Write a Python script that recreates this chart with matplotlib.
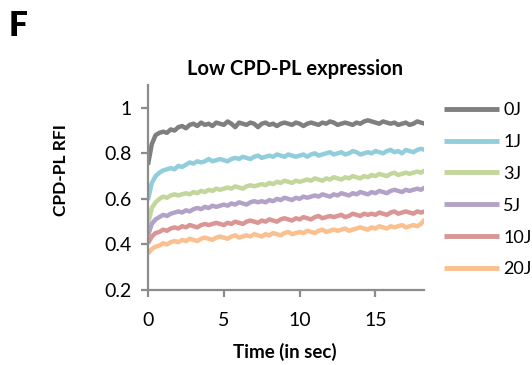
import numpy as np
import matplotlib
matplotlib.use("Agg")
import matplotlib.pyplot as plt

plt.rcParams['font.family'] = ['Lato', 'DejaVu Sans']

labels = ["0J", "1J", "3J", "5J", "10J", "20J"]
colors = ["#7F7F7F", "#92CDDC", "#C3D69B", "#B3A2C7", "#D99694", "#FAC090"]

time_step = 0.25

s0J = [0.75, 0.84, 0.88, 0.89, 0.895, 0.89, 0.905, 0.90, 0.915, 0.92,
       0.91, 0.925, 0.93, 0.92, 0.935, 0.925, 0.93, 0.92, 0.935, 0.93,
       0.925, 0.94, 0.93, 0.915, 0.935, 0.93, 0.925, 0.935, 0.93, 0.915,
       0.93, 0.935, 0.925, 0.93, 0.92, 0.93, 0.935, 0.93, 0.925, 0.935,
       0.93, 0.92, 0.93, 0.935, 0.93, 0.925, 0.935, 0.93, 0.94, 0.935,
       0.925, 0.93, 0.935, 0.93, 0.925, 0.935, 0.93, 0.94, 0.945, 0.94,
       0.935, 0.93, 0.94, 0.935, 0.93, 0.935, 0.925, 0.93, 0.935, 0.925,
       0.93, 0.94, 0.935, 0.93]
s1J = [0.595, 0.67, 0.70, 0.715, 0.725, 0.73, 0.735, 0.73, 0.745, 0.74,
       0.75, 0.76, 0.755, 0.765, 0.76, 0.765, 0.775, 0.765, 0.77, 0.775,
       0.77, 0.765, 0.775, 0.78, 0.775, 0.785, 0.78, 0.775, 0.785, 0.79,
       0.78, 0.785, 0.79, 0.785, 0.795, 0.79, 0.785, 0.795, 0.79, 0.785,
       0.79, 0.795, 0.785, 0.795, 0.80, 0.79, 0.795, 0.80, 0.805, 0.795,
       0.80, 0.805, 0.795, 0.80, 0.81, 0.805, 0.795, 0.80, 0.805, 0.80,
       0.81, 0.805, 0.80, 0.81, 0.815, 0.805, 0.81, 0.80, 0.815, 0.81,
       0.805, 0.815, 0.82, 0.815]
s3J = [0.49, 0.56, 0.585, 0.60, 0.61, 0.605, 0.615, 0.62, 0.615, 0.62,
       0.625, 0.62, 0.63, 0.625, 0.635, 0.63, 0.64, 0.635, 0.645, 0.64,
       0.645, 0.65, 0.645, 0.655, 0.65, 0.645, 0.655, 0.66, 0.655, 0.66,
       0.665, 0.66, 0.67, 0.665, 0.675, 0.67, 0.68, 0.675, 0.67, 0.68,
       0.675, 0.68, 0.685, 0.68, 0.69, 0.685, 0.68, 0.69, 0.685, 0.695,
       0.69, 0.685, 0.695, 0.69, 0.70, 0.695, 0.69, 0.70, 0.695, 0.705,
       0.70, 0.71, 0.705, 0.70, 0.71, 0.715, 0.705, 0.71, 0.715, 0.71,
       0.715, 0.72, 0.715, 0.725]
s5J = [0.44, 0.49, 0.51, 0.52, 0.53, 0.525, 0.535, 0.54, 0.545, 0.54,
       0.55, 0.545, 0.555, 0.56, 0.555, 0.565, 0.56, 0.57, 0.565, 0.57,
       0.575, 0.57, 0.58, 0.575, 0.585, 0.58, 0.575, 0.585, 0.59, 0.585,
       0.59, 0.585, 0.595, 0.59, 0.60, 0.595, 0.605, 0.60, 0.595, 0.605,
       0.60, 0.61, 0.605, 0.61, 0.615, 0.61, 0.62, 0.615, 0.61, 0.62,
       0.615, 0.625, 0.62, 0.615, 0.625, 0.62, 0.63, 0.625, 0.62, 0.63,
       0.625, 0.635, 0.63, 0.625, 0.635, 0.64, 0.635, 0.63, 0.64, 0.635,
       0.64, 0.645, 0.64, 0.65]
s10J = [0.405, 0.435, 0.45, 0.455, 0.465, 0.46, 0.47, 0.475, 0.47, 0.48,
        0.475, 0.485, 0.48, 0.475, 0.485, 0.49, 0.485, 0.49, 0.495, 0.49,
        0.485, 0.495, 0.49, 0.50, 0.495, 0.49, 0.50, 0.505, 0.50, 0.495,
        0.505, 0.50, 0.51, 0.505, 0.50, 0.51, 0.515, 0.51, 0.505, 0.515,
        0.51, 0.52, 0.515, 0.51, 0.52, 0.525, 0.515, 0.52, 0.525, 0.52,
        0.525, 0.53, 0.52, 0.525, 0.535, 0.53, 0.525, 0.535, 0.53, 0.535,
        0.53, 0.54, 0.535, 0.53, 0.54, 0.545, 0.535, 0.54, 0.545, 0.54,
        0.535, 0.545, 0.54, 0.545]
s20J = [0.36, 0.38, 0.39, 0.395, 0.405, 0.40, 0.41, 0.415, 0.41, 0.42,
        0.415, 0.425, 0.42, 0.415, 0.425, 0.43, 0.425, 0.42, 0.43, 0.435,
        0.43, 0.425, 0.435, 0.44, 0.43, 0.435, 0.44, 0.435, 0.445, 0.44,
        0.435, 0.445, 0.44, 0.45, 0.445, 0.44, 0.45, 0.455, 0.445, 0.45,
        0.455, 0.45, 0.46, 0.455, 0.45, 0.46, 0.465, 0.455, 0.46, 0.465,
        0.46, 0.465, 0.47, 0.46, 0.465, 0.47, 0.475, 0.47, 0.465, 0.475,
        0.47, 0.48, 0.475, 0.47, 0.48, 0.475, 0.48, 0.485, 0.475, 0.48,
        0.485, 0.48, 0.49, 0.51]

series = [s0J, s1J, s3J, s5J, s10J, s20J]

xticks = [0, 5, 10, 15]
yticks = [0.2, 0.4, 0.6, 0.8, 1.0]
ytick_labels = ["0.2", "0.4", "0.6", "0.8", "1"]

fig = plt.figure(figsize=(5.32, 3.65), dpi=100)
ax = fig.add_axes([148/532, 1-290/365, (424-148)/532, (290-85)/365])

for lab, col, s in zip(labels, colors, series):
    t = np.arange(len(s)) * time_step
    ax.plot(t, s, color=col, lw=3.2, label=lab, solid_capstyle='butt')

ax.set_xlim(0, 18.2)
ax.set_ylim(0.2, 1.1)
ax.set_xticks(xticks)
ax.set_yticks(yticks)
ax.set_yticklabels(ytick_labels)
for sp in ["top", "right"]:
    ax.spines[sp].set_visible(False)
for sp in ["left", "bottom"]:
    ax.spines[sp].set_color("#8C8C8C")
    ax.spines[sp].set_linewidth(1.6)
ax.tick_params(axis='both', colors="#8C8C8C", length=5, width=1.6, labelsize=14,
               labelcolor="black", direction='out')
ax.tick_params(axis='y', pad=7)
ax.tick_params(axis='x', pad=11)

ax.set_xlabel("Time (in sec)", fontsize=13.5, fontweight='bold')
ax.xaxis.set_label_coords(0.496, -0.26)
ax.set_ylabel("CPD-PL RFI", fontsize=12.5, fontweight='bold')
ax.yaxis.set_label_coords(-0.286, 0.585)
fig.text(295/532, 1-69/365, "Low CPD-PL expression", fontsize=14.5, fontweight='bold',
         ha='center', va='center')
fig.text(9/532, 1-26/365, "F", fontsize=24, fontweight='heavy', ha='left', va='center')

leg = fig.legend(loc='upper left', bbox_to_anchor=(444/532, 1-102/365), frameon=False,
                 fontsize=13, handlelength=3.05, labelspacing=0.88, handletextpad=0.22,
                 borderaxespad=0, borderpad=0)
for line in leg.get_lines():
    line.set_linewidth(3.5)

fig.savefig("out.png", dpi=100)
